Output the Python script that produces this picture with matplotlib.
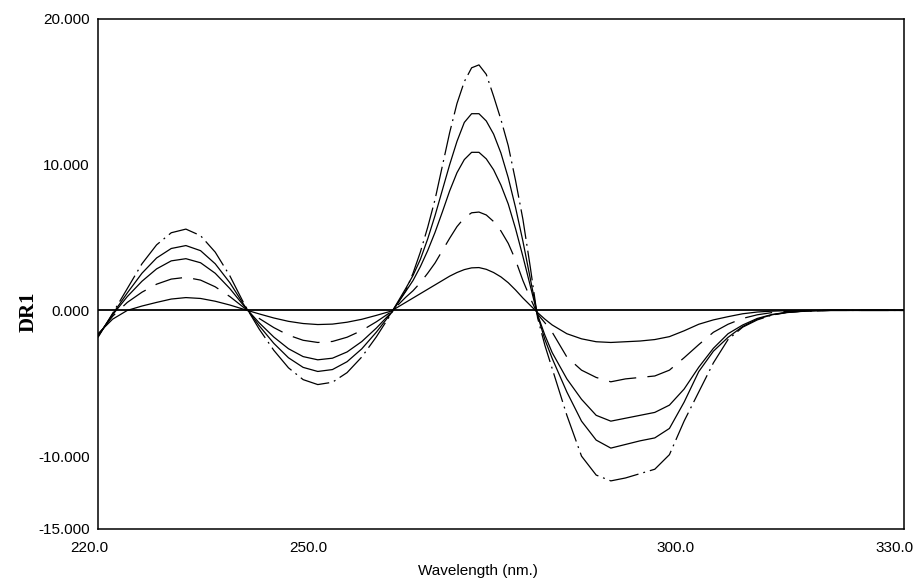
import numpy as np
import matplotlib
matplotlib.use('Agg')
import matplotlib.pyplot as plt
import matplotlib.transforms as mtransforms

# wavelength grid (nm): 2 nm steps, 1 nm around the main band
wavelength = list(range(220, 262, 2)) + list(range(262, 283)) + list(range(284, 332, 2))

# first derivative spectra DR1, five concentrations
dr1_a = [-1.6, -0.6, 0.0, 0.3, 0.55, 0.78, 0.88, 0.82, 0.63, 0.37, 0.06,
         -0.24, -0.52, -0.75, -0.9, -0.97, -0.94, -0.81, -0.61, -0.34, -0.05,
         0.55, 0.85, 1.15, 1.45, 1.75, 2.05, 2.35, 2.6, 2.8, 2.92, 2.94,
         2.82, 2.6, 2.3, 1.9, 1.4, 0.85, 0.35, -0.15, -0.6, -1.0,
         -1.6, -1.95, -2.15, -2.2, -2.15, -2.1, -2.0, -1.8, -1.4,
         -0.95, -0.65, -0.43, -0.23, -0.11, -0.05, -0.02, -0.01, 0.0, 0.0,
         0.0, 0.0, 0.0, 0.0, 0.0]
dr1_b = [-1.7, -0.4, 0.55, 1.25, 1.8, 2.15, 2.27, 2.08, 1.62, 0.95, 0.16,
         -0.55, -1.18, -1.7, -2.05, -2.2, -2.13, -1.84, -1.38, -0.78, -0.1,
         0.9, 1.35, 1.9, 2.55, 3.25, 4.1, 4.95, 5.75, 6.35, 6.7, 6.75,
         6.55, 6.1, 5.45, 4.6, 3.45, 2.05, 0.85, -0.25, -0.85, -1.5,
         -3.2, -4.1, -4.6, -4.9, -4.7, -4.6, -4.5, -4.1, -3.25,
         -2.35, -1.5, -0.95, -0.55, -0.3, -0.15, -0.07, -0.03, -0.01, 0.0,
         0.0, 0.0, 0.0, 0.0, 0.0]
dr1_c = [-1.75, -0.3, 0.95, 2.0, 2.85, 3.4, 3.55, 3.27, 2.55, 1.5, 0.26,
         -0.85, -1.83, -2.63, -3.17, -3.39, -3.28, -2.85, -2.14, -1.21, -0.16,
         1.3, 2.05, 3.0, 4.1, 5.35, 6.75, 8.2, 9.45, 10.35, 10.85, 10.85,
         10.4, 9.65, 8.6, 7.3, 5.6, 3.7, 1.7, -0.3, -1.7, -2.9,
         -4.7, -6.1, -7.2, -7.6, -7.4, -7.2, -7.0, -6.5, -5.4,
         -3.9, -2.6, -1.6, -1.0, -0.55, -0.28, -0.13, -0.06, -0.02, 0.0,
         0.0, 0.0, 0.0, 0.0, 0.0]
dr1_d = [-1.8, -0.25, 1.2, 2.55, 3.6, 4.25, 4.45, 4.1, 3.2, 1.9, 0.32,
         -1.05, -2.26, -3.25, -3.91, -4.19, -4.06, -3.52, -2.64, -1.49, -0.2,
         1.5, 2.4, 3.5, 4.9, 6.5, 8.25, 10.0, 11.6, 12.9, 13.5, 13.5,
         13.0, 12.1, 10.8, 9.1, 7.05, 4.75, 2.2, -0.35, -2.0, -3.3,
         -5.6, -7.6, -8.9, -9.45, -9.2, -8.95, -8.75, -8.1, -6.3,
         -4.2, -2.8, -1.85, -1.1, -0.6, -0.3, -0.14, -0.06, -0.02, 0.0,
         0.0, 0.0, 0.0, 0.0, 0.0]
dr1_e = [-1.85, -0.2, 1.5, 3.2, 4.5, 5.33, 5.58, 5.13, 4.0, 2.37, 0.4,
         -1.28, -2.74, -3.94, -4.75, -5.09, -4.93, -4.27, -3.2, -1.81, -0.24,
         1.35, 2.55, 4.0, 5.7, 7.6, 9.9, 12.2, 14.2, 15.7, 16.65, 16.85,
         16.2, 14.7, 13.1, 11.3, 8.9, 6.25, 3.0, -0.5, -2.4, -4.0,
         -7.2, -10.0, -11.3, -11.7, -11.5, -11.2, -10.9, -9.9, -7.6,
         -5.6, -3.6, -2.0, -1.15, -0.65, -0.32, -0.15, -0.07, -0.03, 0.0,
         0.0, 0.0, 0.0, 0.0, 0.0]

x_ticks = [220, 250, 300, 330]
x_labels = ['220.0', '250.0', '300.0', '330.0']
y_ticks = [20, 10, 0, -10, -15]
y_labels = ['20.000', '10.000', '0.000', '-10.000', '-15.000']

plt.rcParams['font.family'] = ['Liberation Sans', 'DejaVu Sans']

fig = plt.figure(figsize=(9.21, 5.79), dpi=100)
ax = fig.add_axes([0.1064, 0.0864, 0.875, 0.8808])

lw = 0.9
ax.axhline(0, color='black', lw=1.3, zorder=1)
ax.plot(wavelength, dr1_a, color='black', lw=lw, ls='-')
ax.plot(wavelength, dr1_b, color='black', lw=lw, dashes=(22, 9))
ax.plot(wavelength, dr1_c, color='black', lw=lw, ls='-')
ax.plot(wavelength, dr1_d, color='black', lw=lw, ls='-')
ax.plot(wavelength, dr1_e, color='black', lw=lw, dashes=(24, 4, 1.5, 4))

ax.set_xlim(220, 330)
ax.set_ylim(-15, 20)
ax.set_xticks(x_ticks)
ax.set_xticklabels(x_labels, fontsize=11)
ax.set_yticks(y_ticks)
ax.set_yticklabels(y_labels, fontsize=11)
ax.tick_params(length=0)
ax.tick_params(axis='y', pad=6)
ax.tick_params(axis='x', pad=9)
# x labels sit a little left of their ticks in the original
shift = mtransforms.ScaledTranslation(-9 / 100, 0, fig.dpi_scale_trans)
for lab in ax.get_xticklabels():
    lab.set_transform(lab.get_transform() + shift)
for s in ax.spines.values():
    s.set_linewidth(1.1)

fig.text(29 / 921, 1 - 312 / 579, 'DR1', fontsize=15, fontweight='bold',
         family='Liberation Serif', rotation=90, ha='center', va='center')
fig.text(478 / 921, 1 - 571 / 579, 'Wavelength (nm.)', fontsize=11, ha='center', va='center')

plt.savefig('out.png', dpi=100)
